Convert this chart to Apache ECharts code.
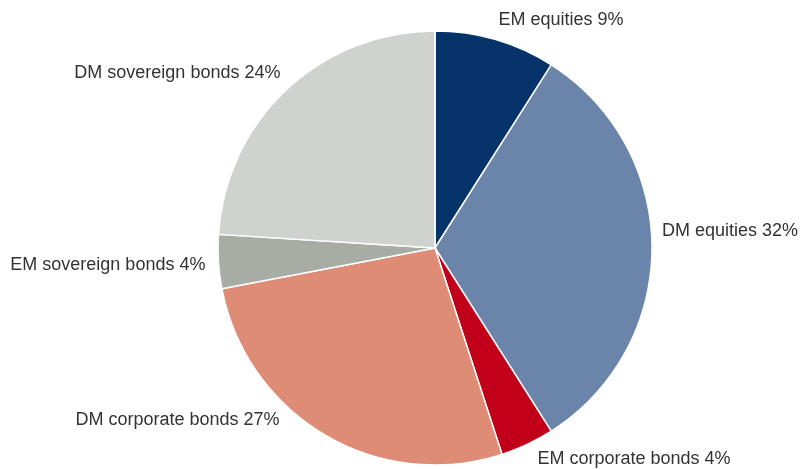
<!DOCTYPE html>
<html>
<head>
<meta charset="utf-8">
<script src="https://cdn.jsdelivr.net/npm/echarts@6/dist/echarts.min.js"></script>
<style>
html,body{margin:0;padding:0;background:#fff;}
#chart{width:801px;height:469px;}
</style>
</head>
<body>
<div id="chart"></div>
<script>
const categories = ["EM equities", "DM equities", "EM corporate bonds", "DM corporate bonds", "EM sovereign bonds", "DM sovereign bonds"];
const shares = [9, 32, 4, 27, 4, 24];
const colors = ["#06346a", "#6a84aa", "#c1001a", "#df8c77", "#a7ada5", "#d0d2ce"];
// label nudges relative to the default outside position
const labelDx = [-2, 5, 5, -40, -8, -1];
const labelDy = [-20, -17, 15, -15, 3, -17];

const chart = echarts.init(document.getElementById('chart'), null, {renderer: 'canvas'});
chart.setOption({
  animation: false,
  backgroundColor: '#ffffff',
  series: [{
    type: 'pie',
    center: [435, 248],
    radius: 217,
    startAngle: 90,
    clockwise: true,
    avoidLabelOverlap: false,
    itemStyle: {borderColor: '#ffffff', borderWidth: 1.5},
    label: {
      show: true,
      position: 'outside',
      distanceToLabelLine: 5,
      color: '#333333',
      fontFamily: 'Liberation Sans, Arial, sans-serif',
      fontSize: 18,
      formatter: p => p.name + ' ' + p.value + '%'
    },
    labelLine: {show: false, length: 0, length2: 0},
    labelLayout: p => ({dx: labelDx[p.dataIndex], dy: labelDy[p.dataIndex]}),
    emphasis: {disabled: true},
    data: categories.map((c, i) => ({name: c, value: shares[i], itemStyle: {color: colors[i]}}))
  }]
});
</script>
</body>
</html>
